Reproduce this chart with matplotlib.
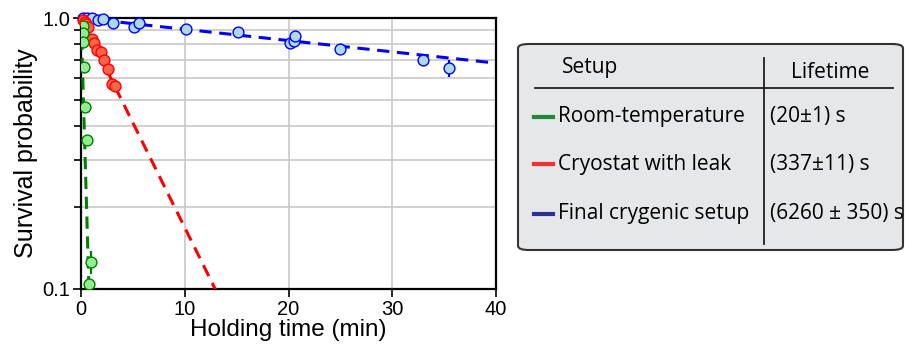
import numpy as np
import matplotlib
matplotlib.use("Agg")
import matplotlib.pyplot as plt
from matplotlib.patches import FancyBboxPatch
from matplotlib.ticker import LogLocator, NullFormatter, FixedLocator, FixedFormatter

# ---- data ----
green_t = [0.18, 0.18, 0.18, 0.26, 0.4, 0.55, 0.95, 0.75]
green_p = [0.937, 0.878, 0.818, 0.66, 0.47, 0.355, 0.126, 0.104]
green_err = [0, 0, 0, 0, 0, 0, 0.012, 0]

red_t = [0.2, 0.4, 0.5, 0.7, 1.03, 1.28, 1.57, 1.93, 2.25, 2.63, 2.96, 3.28]
red_p = [0.985, 0.965, 0.95, 0.93, 0.84, 0.81, 0.76, 0.75, 0.70, 0.65, 0.571, 0.561]

blue_t = [0.2, 0.55, 1.1, 1.67, 2.09, 3.1, 5.1, 5.6, 10.1, 15.1, 20.1, 20.5, 20.6, 25.0, 33.0, 35.5]
blue_p = [1.0, 1.0, 1.0, 0.985, 0.989, 0.962, 0.929, 0.956, 0.908, 0.890, 0.811, 0.825, 0.859, 0.770, 0.700, 0.654]
blue_err = [0, 0, 0, 0, 0, 0, 0, 0, 0, 0, 0, 0, 0, 0, 0, 0.048]

tau_green = 20 / 60.0    # min
tau_red = 337 / 60.0
tau_blue = 6260 / 60.0

setups = ["Room-temperature", "Cryostat with leak", "Final crygenic setup"]
lifetimes = ["(20±1) s", "(337±11) s", "(6260 ± 350) s"]
legend_colors = ["#1f8a3c", "#ee3338", "#2e3192"]

plt.rcParams['font.family'] = ['Liberation Sans', 'DejaVu Sans']

fig = plt.figure(figsize=(9.05, 3.51), dpi=100)
ax = fig.add_axes([81/905, 62/351, 415/905, 271/351])

ax.set_yscale('log')
ax.set_xlim(0, 40)
ax.set_ylim(0.1, 1.0)

# fits
t = np.linspace(0, 0.8, 50)
ax.plot(t, np.exp(-t / tau_green), '--', color='#008000', lw=2.2, dashes=(4, 2.5), zorder=3)
t = np.linspace(0, 3.3, 50)
ax.plot(t, np.exp(-t / tau_red), '-', color='#ff0000', lw=2.2, zorder=3)
t = np.linspace(3.3, 14, 50)
ax.plot(t, np.exp(-t / tau_red), '--', color='#ff0000', lw=2.2, dashes=(4, 2.5), zorder=3)
t = np.linspace(0, 40, 200)
ax.plot(t, np.exp(-t / tau_blue), '--', color='#0000ff', lw=2.2, dashes=(4, 2.5), zorder=3)

# data
ax.errorbar(blue_t, blue_p, yerr=blue_err, fmt='o', ms=7.8, mfc='#add8e6', mec='#0000ff',
            mew=1.0, ecolor='#0000ff', elinewidth=1.6, capsize=0, zorder=4, clip_on=False)
ax.errorbar(red_t, red_p, fmt='o', ms=7.8, mfc='#ff6347', mec='#ff0000',
            mew=1.0, zorder=5, clip_on=False)
ax.errorbar(green_t, green_p, yerr=green_err, fmt='o', ms=7.8, mfc='#90ee90', mec='#008000',
            mew=1.0, ecolor='#008000', elinewidth=1.6, capsize=0, zorder=6, clip_on=True)

# ticks & grid
ax.yaxis.set_major_locator(FixedLocator([0.1, 1.0]))
ax.yaxis.set_major_formatter(FixedFormatter(['0.1', '1.0']))
ax.yaxis.set_minor_locator(LogLocator(base=10, subs=np.arange(2, 10)))
ax.yaxis.set_minor_formatter(NullFormatter())
ax.set_xticks([0, 10, 20, 30, 40])
ax.tick_params(axis='both', which='major', labelsize=14.5, length=6, width=1.2, direction='out', pad=2)
ax.tick_params(axis='y', which='minor', length=5, width=1.2, direction='out')
ax.grid(True, which='both', axis='y', color='#c8c8c8', lw=1.2)
ax.grid(True, which='major', axis='x', color='#c8c8c8', lw=1.2)
ax.set_axisbelow(True)
for s in ax.spines.values():
    s.set_linewidth(1.6)

ax.set_xlabel('Holding time (min)', fontsize=17.5, labelpad=0)
ax.set_ylabel('Survival probability', fontsize=18, labelpad=3)

# legend table box
box = FancyBboxPatch((518/905, (351-250)/351), (903-518)/905, (250-44)/351,
                     boxstyle="round,pad=0,rounding_size=0.012", transform=fig.transFigure,
                     facecolor='#e6e7e8', edgecolor='#333333', lw=1.5, zorder=1)
fig.patches.append(box)

def fx(px):
    return px / 905

def fy(py):
    return 1 - py / 351

tf = ['Open Sans', 'DejaVu Sans']
fs = 15
fig.text(fx(590), fy(68), 'Setup', fontsize=fs, family=tf, ha='center', va='center')
fig.text(fx(830), fy(72), 'Lifetime', fontsize=fs, family=tf, ha='center', va='center')
fig.lines.append(plt.Line2D([fx(535), fx(893)], [fy(88), fy(88)], transform=fig.transFigure,
                            color='#231f20', lw=1.3))
fig.lines.append(plt.Line2D([fx(764), fx(764)], [fy(58), fy(244)], transform=fig.transFigure,
                            color='#231f20', lw=1.3))
rows_y = [117, 164, 214]
for yy, name, life, c in zip(rows_y, setups, lifetimes, legend_colors):
    fig.lines.append(plt.Line2D([fx(534), fx(553)], [fy(yy), fy(yy)], transform=fig.transFigure,
                                color=c, lw=3))
    fig.text(fx(558), fy(yy), name, fontsize=fs, family=tf, ha='left', va='center')
    fig.text(fx(770), fy(yy), life, fontsize=fs, family=tf, ha='left', va='center')

fig.savefig('out.png', dpi=100)
